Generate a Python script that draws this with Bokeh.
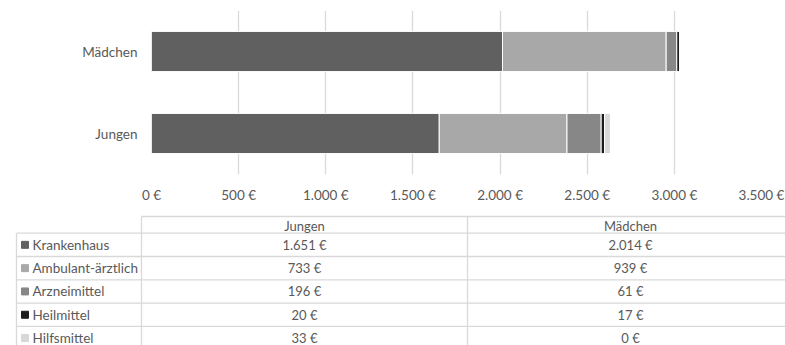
from bokeh.plotting import figure
from bokeh.models import ColumnDataSource, FactorRange, Range1d, FixedTicker
from bokeh.layouts import column
from bokeh.core.properties import value
from bokeh.embed import file_html
from bokeh.resources import INLINE

# ---- data ----
categories = ["Jungen", "Mädchen"]
components = ["Krankenhaus", "Ambulant-ärztlich", "Arzneimittel", "Heilmittel", "Hilfsmittel"]
jungen = [1651, 733, 196, 20, 33]
maedchen = [2014, 939, 61, 17, 0]
colors = ["#606060", "#a8a8a8", "#878787", "#1c1c1c", "#d8d8d8"]
tick_values = [0, 500, 1000, 1500, 2000, 2500, 3000, 3500]
tick_labels = ["0 €", "500 €", "1.000 €", "1.500 €", "2.000 €", "2.500 €", "3.000 €", "3.500 €"]

FONT = "Lato"
TXT = "#595959"
GRID = "#d9d9d9"

def fmt(v):
    return f"{v:,}".replace(",", ".") + " €"

W = 785
# ---- chart ----
data = {"cat": categories}
for i, c in enumerate(components):
    data[c] = [jungen[i], maedchen[i]]
src = ColumnDataSource(data)

p = figure(width=W, height=205, y_range=FactorRange(*categories, range_padding=0),
           x_range=Range1d(0, 3500), output_backend="svg", toolbar_location=None,
           min_border_left=151, min_border_right=24, min_border_top=10, min_border_bottom=29)
p.frame_align = False
p.hbar_stack(components, y="cat", height=0.49, color=colors, source=src,
             line_color="white", line_width=1)
p.outline_line_color = None
p.ygrid.grid_line_color = None
p.xgrid.grid_line_color = GRID
p.xgrid.grid_line_width = 1.3
p.xaxis.ticker = FixedTicker(ticks=tick_values)
p.xaxis.major_label_overrides = {v: l for v, l in zip(tick_values, tick_labels)}
for ax in (p.xaxis, p.yaxis):
    ax.axis_line_color = None
    ax.major_tick_line_color = None
    ax.minor_tick_line_color = None
    ax.major_tick_in = 0
    ax.major_tick_out = 0
    ax.major_label_text_font = FONT
    ax.major_label_text_font_size = "13.5px"
    ax.major_label_text_color = TXT
p.xaxis.major_label_standoff = 12
p.yaxis.major_label_standoff = 14

# ---- data table ----
H = 140
t = figure(width=W, height=H, x_range=Range1d(0, W), y_range=Range1d(H, 0),
           output_backend="svg", toolbar_location=None, min_border=0)
t.frame_align = False
t.axis.visible = False
t.grid.visible = False
t.outline_line_color = None

head_top, head_bot, row_h = 11, 27.7, 23.3
left_x, c1_x, c2_x = 16, 141, 467
n = len(components)
# horizontal lines
hx0 = [c1_x] + [left_x] * (n + 1)
hy = [head_top] + [head_bot + k * row_h for k in range(n + 1)]
t.segment(x0=hx0, y0=hy, x1=[W] * len(hy), y1=hy, line_color=GRID, line_width=1.3)
# vertical lines
t.segment(x0=[left_x, c1_x, c2_x], y0=[head_bot, head_top, head_top],
          x1=[left_x, c1_x, c2_x], y1=[H, H, H], line_color=GRID, line_width=1.3)

col_centers = [(c1_x + c2_x) / 2, c2_x + (c2_x - c1_x) / 2]
t.text(x=col_centers, y=[(head_top + head_bot) / 2 + 1] * 2, text=categories,
       text_font=value(FONT), text_font_size="13px", text_color=TXT,
       text_align="center", text_baseline="middle")

row_y = [head_bot + k * row_h + row_h / 2 for k in range(n)]
t.scatter(x=[left_x + 8.5] * n, y=row_y, marker="square", size=7, color=colors)
t.text(x=[left_x + 16] * n, y=row_y, text=components, text_font=value(FONT),
       text_font_size="13.5px", text_color=TXT, text_align="left", text_baseline="middle")
t.text(x=[col_centers[0]] * n, y=row_y, text=[fmt(v) for v in jungen], text_font=value(FONT),
       text_font_size="13px", text_color=TXT, text_align="center", text_baseline="middle")
t.text(x=[col_centers[1]] * n, y=row_y, text=[fmt(v) for v in maedchen], text_font=value(FONT),
       text_font_size="13px", text_color=TXT, text_align="center", text_baseline="middle")

layout = column(p, t, spacing=0)
open("out.html", "w").write(file_html(layout, INLINE))
